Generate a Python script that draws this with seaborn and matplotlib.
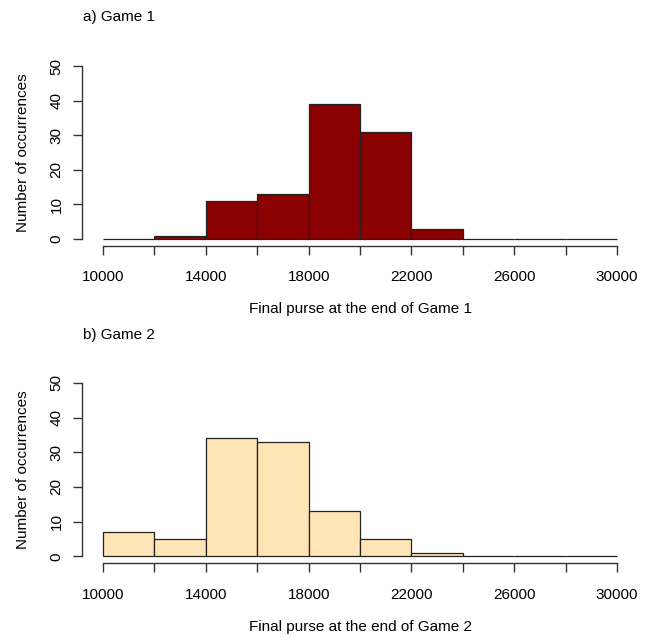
import numpy as np
import pandas as pd
import seaborn as sns
import matplotlib.pyplot as plt

# Daten
bin_edges = [10000, 12000, 14000, 16000, 18000, 20000, 22000, 24000, 26000, 28000, 30000]
counts_game1 = [0, 1, 11, 13, 39, 31, 3, 0, 0, 0]
counts_game2 = [7, 5, 34, 33, 13, 5, 1, 0, 0, 0]
titles = ["a) Game 1", "b) Game 2"]
xlabels = ["Final purse at the end of Game 1", "Final purse at the end of Game 2"]
colors = ["#8B0000", "#FFE4B5"]

sns.set_style("white")
plt.rcParams["font.family"] = ["Liberation Sans", "DejaVu Sans"]
plt.rcParams["text.color"] = "black"
plt.rcParams["axes.labelcolor"] = "black"

centers = [(a + b) / 2 for a, b in zip(bin_edges[:-1], bin_edges[1:])]

fig = plt.figure(figsize=(6.51, 6.40), dpi=100)
axes_pos = [[0.1266, 0.6156, 0.853, 0.292], [0.1266, 0.120, 0.853, 0.2925]]
title_y = [0.973, 0.476]

axis_col = "#333333"
for i, counts in enumerate([counts_game1, counts_game2]):
    df = pd.DataFrame({"purse": centers, "n": counts})
    ax = fig.add_axes(axes_pos[i])
    sns.histplot(data=df, x="purse", weights="n", bins=bin_edges, color=colors[i],
                 alpha=1, edgecolor="#222222", linewidth=0.9, ax=ax)
    ax.set_xlim(9200, 30800)
    ax.set_ylim(-2, 52)
    ax.set_xticks(bin_edges)
    ax.set_xticklabels([str(v) if (v - 10000) % 4000 == 0 else "" for v in bin_edges])
    ax.set_yticks([0, 10, 20, 30, 40, 50])
    ax.set_yticklabels(["0", "10", "20", "30", "40", "50"], rotation=90, va="center")
    for s in ["top", "right"]:
        ax.spines[s].set_visible(False)
    ax.spines["left"].set_bounds(0, 50)
    ax.spines["bottom"].set_bounds(10000, 30000)
    for s in ["left", "bottom"]:
        ax.spines[s].set_color(axis_col)
        ax.spines[s].set_linewidth(1.0)
    ax.tick_params(axis="both", direction="out", length=6.5, width=1.0, color=axis_col,
                   labelsize=11, labelcolor="black", bottom=True, left=True)
    ax.tick_params(axis="x", pad=11)
    ax.tick_params(axis="y", pad=7)
    ax.set_xlabel(xlabels[i], fontsize=11, labelpad=13)
    ax.set_ylabel("Number of occurrences", fontsize=11, labelpad=14)
    fig.text(0.128, title_y[i], titles[i], fontsize=11, ha="left", va="center")

plt.savefig("out.png", dpi=100)
plt.close()
